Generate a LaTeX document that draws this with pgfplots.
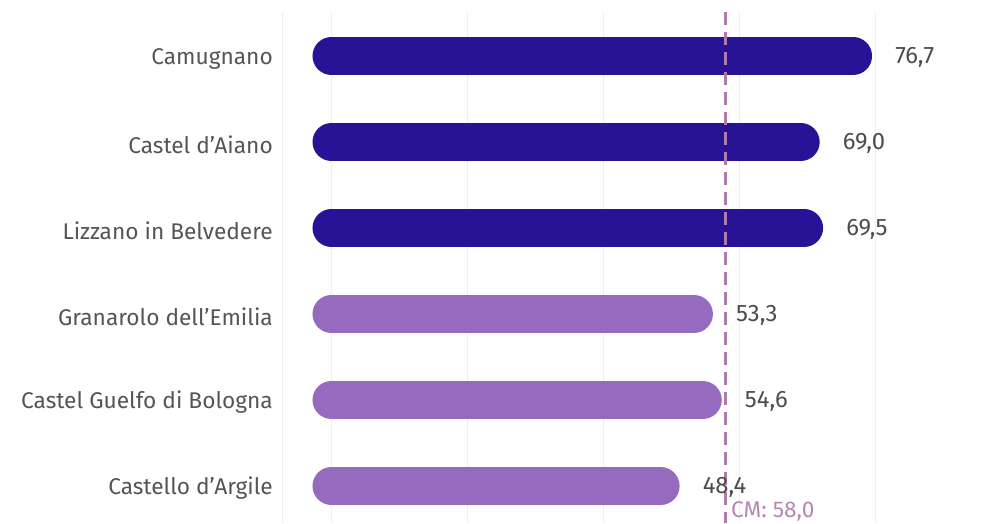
\documentclass[border=0pt]{standalone}
\usepackage{pgfplots}
\pgfplotsset{compat=1.18}
\usepackage{fontspec}
\setmainfont{Fira Sans}
\definecolor{darkbar}{HTML}{281296}
\definecolor{lightbar}{HTML}{966ABE}
\definecolor{cmline}{HTML}{B07AAA}
\definecolor{cmtext}{HTML}{B985B5}
\definecolor{txt}{HTML}{555555}
\definecolor{gridcol}{HTML}{EEEEEE}
\begin{document}
\begin{tikzpicture}
\begin{axis}[
  scale only axis, width=708pt, height=523pt,
  xmin=-7.279, xmax=96.838,
  y dir=reverse, ymin=-0.6512, ymax=5.4302,
  axis line style={draw=none}, major tick length=0pt,
  xtick=\empty,
  ytick={0,1,2,3,4,5},
  yticklabels={Camugnano, Castel d’Aiano, Lizzano in Belvedere, Granarolo dell’Emilia, Castel Guelfo di Bologna, Castello d’Argile},
  yticklabel style={anchor=east, inner sep=0pt, xshift=-9pt, yshift=-2.5pt, font=\fontsize{22.7}{26}\selectfont, text=txt},
  clip=false,
]
% gridlines
\foreach \g in {0,20,40,60,80} {
  \edef\tmp{\noexpand\addplot[color=gridcol, line width=1.2pt, forget plot] coordinates {(\g,-0.5116) (\g,5.4302)};}
  \tmp
}
\addplot[color=gridcol, line width=1.2pt, forget plot] coordinates {(-7.206,-0.5116) (-7.206,5.4302)};
% bars
\addplot[darkbar, line width=38pt, line cap=round] coordinates {(0,0) (76.7,0)};
\addplot[darkbar, line width=38pt, line cap=round] coordinates {(0,1) (69.0,1)};
\addplot[darkbar, line width=38pt, line cap=round] coordinates {(0,2) (69.5,2)};
\addplot[lightbar, line width=38pt, line cap=round] coordinates {(0,3) (53.3,3)};
\addplot[lightbar, line width=38pt, line cap=round] coordinates {(0,4) (54.6,4)};
\addplot[lightbar, line width=38pt, line cap=round] coordinates {(0,5) (48.4,5)};
% value labels
\addplot[draw=none, nodes near coords, point meta=explicit symbolic,
  every node near coord/.style={anchor=west, inner sep=0pt, xshift=42pt, yshift=-1.5pt, font=\fontsize{23.8}{27}\selectfont, text=txt!90!black}]
  table[meta=lab] {
x y lab
76.7 0 76,7
69.0 1 69,0
69.5 2 69,5
53.3 3 53,3
54.6 4 54,6
48.4 5 48,4
};
% CM line
\addplot[cmline, line width=3pt, dash pattern=on 13pt off 7pt] coordinates {(58,-0.5116) (58,5.4302)};
\addplot[draw=none, nodes near coords, point meta=explicit symbolic,
  every node near coord/.style={anchor=west, inner sep=0pt, xshift=5pt, font=\fontsize{22.7}{26}\selectfont, text=cmtext}]
  table[meta=lab] {
x y lab
58 5.30 {CM: 58,0}
};
\end{axis}
\pgfresetboundingbox
\path (-282pt,0pt) rectangle (708pt,523pt);
\end{tikzpicture}
\end{document}
